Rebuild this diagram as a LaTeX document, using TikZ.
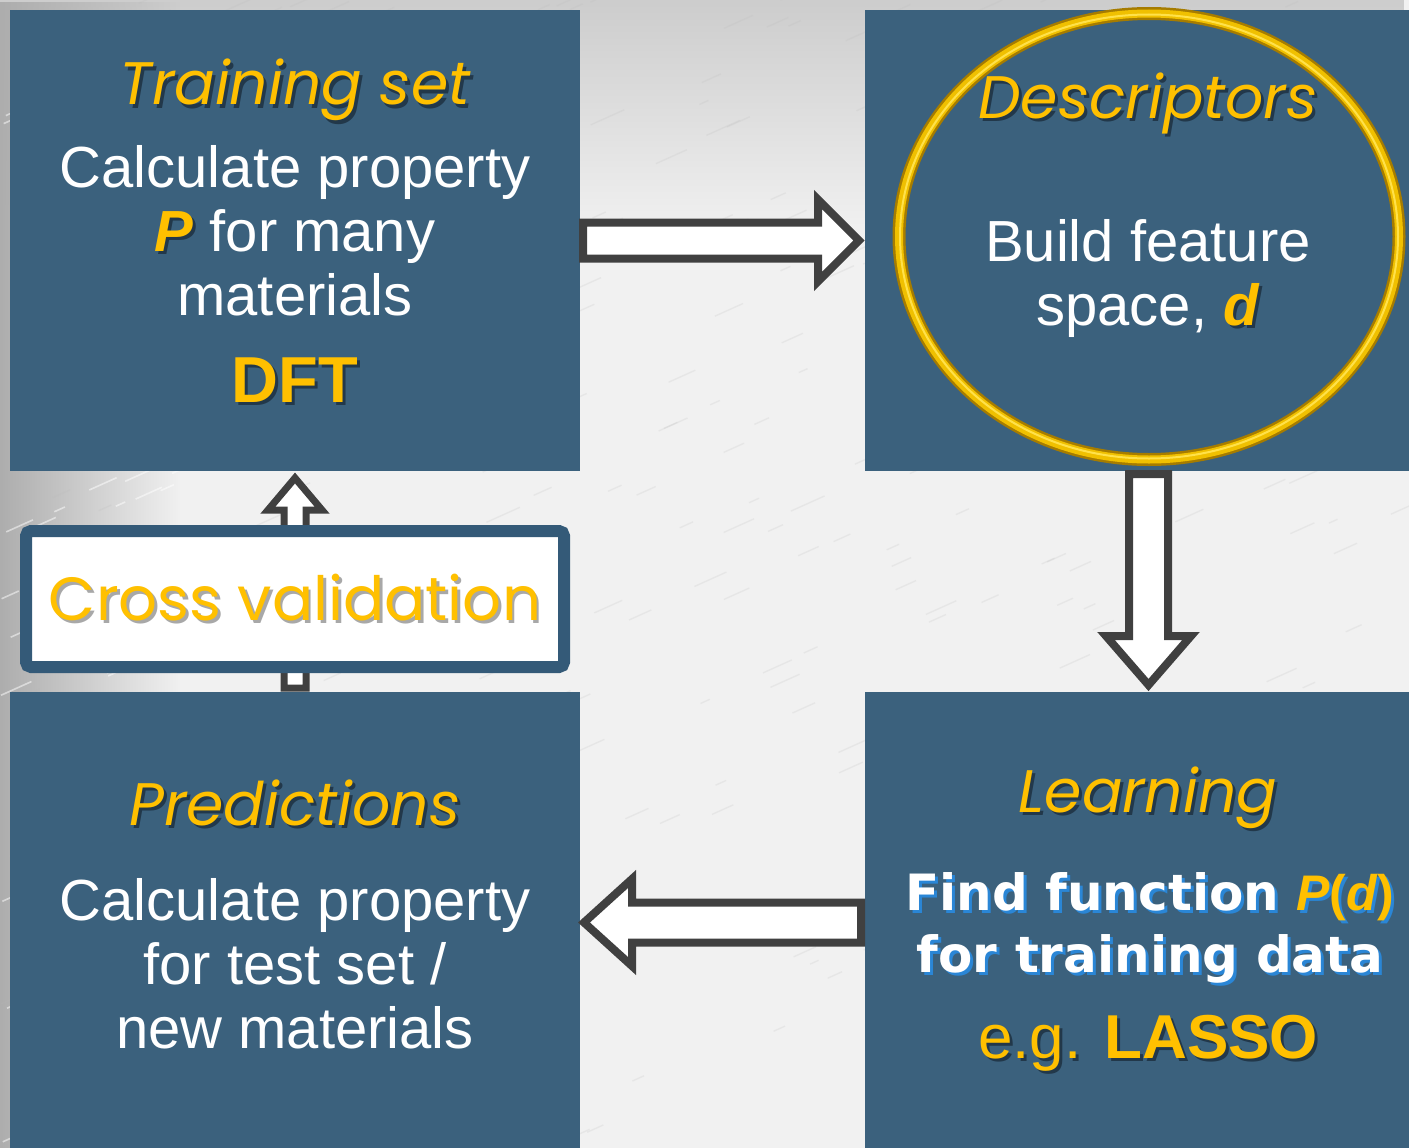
\documentclass[tikz,border=0pt]{standalone}
\usepackage{fontspec}
\setmainfont{Liberation Sans}
\newfontfamily\gothic{Poppins}
\newfontfamily\verdana{DejaVu Sans}
\usetikzlibrary{calc,fadings}

\definecolor{panel}{HTML}{3B617D}
\definecolor{cvframe}{HTML}{345A78}
\definecolor{gold}{HTML}{FFC000}
\definecolor{ringdark}{HTML}{A67C00}
\definecolor{ringlight}{HTML}{F0C000}
\definecolor{ringshine}{HTML}{FFE14A}
\definecolor{arrowline}{HTML}{404040}
\definecolor{paper}{HTML}{F1F1F1}
\definecolor{papermid}{HTML}{CDCDCD}
\definecolor{paperdark}{HTML}{ADADAD}
\definecolor{dropdark}{HTML}{22384A}
\definecolor{dropgrey}{HTML}{A8A8A8}
\definecolor{dropblue}{HTML}{2A86D6}

% text with a drop shadow offset to the lower right
\newcommand\drop[2][dropdark]{\leavevmode\rlap{\hspace{3pt}\raisebox{-3pt}{\textcolor{#1}{#2}}}#2}

\tikzset{
  panelbox/.style={fill=panel, draw=none, inner sep=0pt, outer sep=0pt},
  hollow/.style={draw=arrowline, fill=white, line width=8pt, line join=miter},
  hollowthin/.style={hollow, line width=7pt},
  title/.style={font=\gothic\itshape\fontsize{60}{66}\selectfont, text=gold, anchor=base, inner sep=0pt},
  body/.style={font=\fontsize{58}{64}\selectfont, text=white, align=center, anchor=base, inner sep=0pt},
  cvbox/.style={draw=cvframe, fill=white, line width=12pt, rounded corners=5pt,
    minimum width=538pt, minimum height=136pt, inner sep=0pt},
}

\begin{document}
\begin{tikzpicture}[x=1pt, y=-1pt]
\useasboundingbox (0,0) rectangle (1409,1148);

% paper background: grey along the top and the left edge, near white elsewhere
\fill[paper] (0,0) rectangle (1409,1148);
\fill[papermid, path fading=south] (0,0) rectangle (1409,230);
\fill[paperdark, path fading=east] (0,0) rectangle (180,1148);
\pgfmathsetseed{11}
\foreach \i in {1,...,320}{
  \pgfmathsetmacro\xx{rnd*1409}
  \pgfmathsetmacro\yy{rnd*1148}
  \pgfmathsetmacro\ll{8+rnd*26}
  \draw[gray!55, opacity=0.18, line width=1.4pt] (\xx,\yy) -- ++(\ll,-0.45*\ll);
}
\foreach \i in {1,...,160}{
  \pgfmathsetmacro\xx{rnd*180}
  \pgfmathsetmacro\yy{rnd*1148}
  \pgfmathsetmacro\ll{8+rnd*26}
  \draw[white, opacity=0.5, line width=1.6pt] (\xx,\yy) -- ++(\ll,-0.45*\ll);
}

% the four panels
\node[panelbox, minimum width=570pt, minimum height=461pt] (tl) at (295,240.5) {};
\node[panelbox, minimum width=544pt, minimum height=461pt] (tr) at (1137,240.5) {};
\node[panelbox, minimum width=570pt, minimum height=456pt] (bl) at (295,920) {};
\node[panelbox, minimum width=544pt, minimum height=456pt] (br) at (1137,920) {};

% gold ring round the descriptors
\coordinate (ringc) at (1149,236.5);
\draw[ringdark, line width=13pt] (ringc) ellipse [x radius=250, y radius=223];
\draw[ringlight, line width=8pt] (ringc) ellipse [x radius=250, y radius=223];
\draw[ringshine, line width=2pt] (ringc) ellipse [x radius=249, y radius=222];

% hollow block arrows between the panels
\draw[hollow] ($(tl.east)+(3,-18)$) -- ($(tl.east)+(238,-18)$) -- ($(tl.east)+(238,-41)$)
  -- ($(tr.west)+(-6,0)$) -- ($(tl.east)+(238,41)$) -- ($(tl.east)+(238,18)$)
  -- ($(tl.east)+(3,18)$) -- cycle;
\draw[hollow] ($(tr.south)+(-8,3)$) -- ($(tr.south)+(-8,165)$) -- ($(tr.south)+(-31,165)$)
  -- ($(br.north)+(11.5,-7)$) -- ($(tr.south)+(54,165)$) -- ($(tr.south)+(31,165)$)
  -- ($(tr.south)+(31,3)$) -- cycle;
\draw[hollow] ($(br.west)+(-4,-17.5)$) -- ($(bl.east)+(52,-17.5)$) -- ($(bl.east)+(52,-41)$)
  -- ($(bl.east)+(4,2.5)$) -- ($(bl.east)+(52,46)$) -- ($(bl.east)+(52,22.5)$)
  -- ($(br.west)+(-4,22.5)$) -- cycle;
\draw[hollowthin] ($(bl.north)+(-11,-4)$) -- ($(tl.south)+(-11,39)$) -- ($(tl.south)+(-27,39)$)
  -- ($(tl.south)+(0,7)$) -- ($(tl.south)+(27,39)$) -- ($(tl.south)+(11,39)$)
  -- ($(bl.north)+(11,-4)$) -- cycle;

% cross validation label over the up arrow
\node[cvbox, font=\gothic\fontsize{61}{66}\selectfont, text=gold] (cv) at (295,599)
  {\drop[dropgrey]{Cross validation}};

% training set
\node[title] (tltitle) at (295,105) {\drop{Training set}};
\node[body] (tlbody) at (295,315)
  {Calculate property\\ \textcolor{gold}{\drop{\textbf{\textit{P}}}} for many\\ materials};
\node[body, font=\bfseries\fontsize{65}{70}\selectfont, text=gold] (dft) at (295,402) {\drop{DFT}};

% descriptors
\node[title] (trtitle) at (1148,118) {\drop{Descriptors}};
\node[body] (trbody) at (1148,325)
  {Build feature\\ space, \textcolor{gold}{\drop{\textbf{\textit{d}}}}};

% predictions
\node[title] (bltitle) at (295,825) {\drop{Predictions}};
\node[body] (blbody) at (295,1048)
  {Calculate property\\ for test set /\\ new materials};

% learning
\node[title] (brtitle) at (1148,812) {\drop{Learning}};
\node[body, font=\verdana\bfseries\fontsize{50}{62}\selectfont] (brbody) at (1150,972)
  {\drop[dropblue]{Find function} \textcolor{gold}{\drop[dropblue]{\rmfamily\bfseries\textit{P}(\textit{d})}}\\
   \drop[dropblue]{for training data}};
\node[body, text=gold, font=\fontsize{62}{64}\selectfont] (lasso) at (1148,1058)
  {\drop{e.g. \textbf{LASSO}}};
\end{tikzpicture}
\end{document}
